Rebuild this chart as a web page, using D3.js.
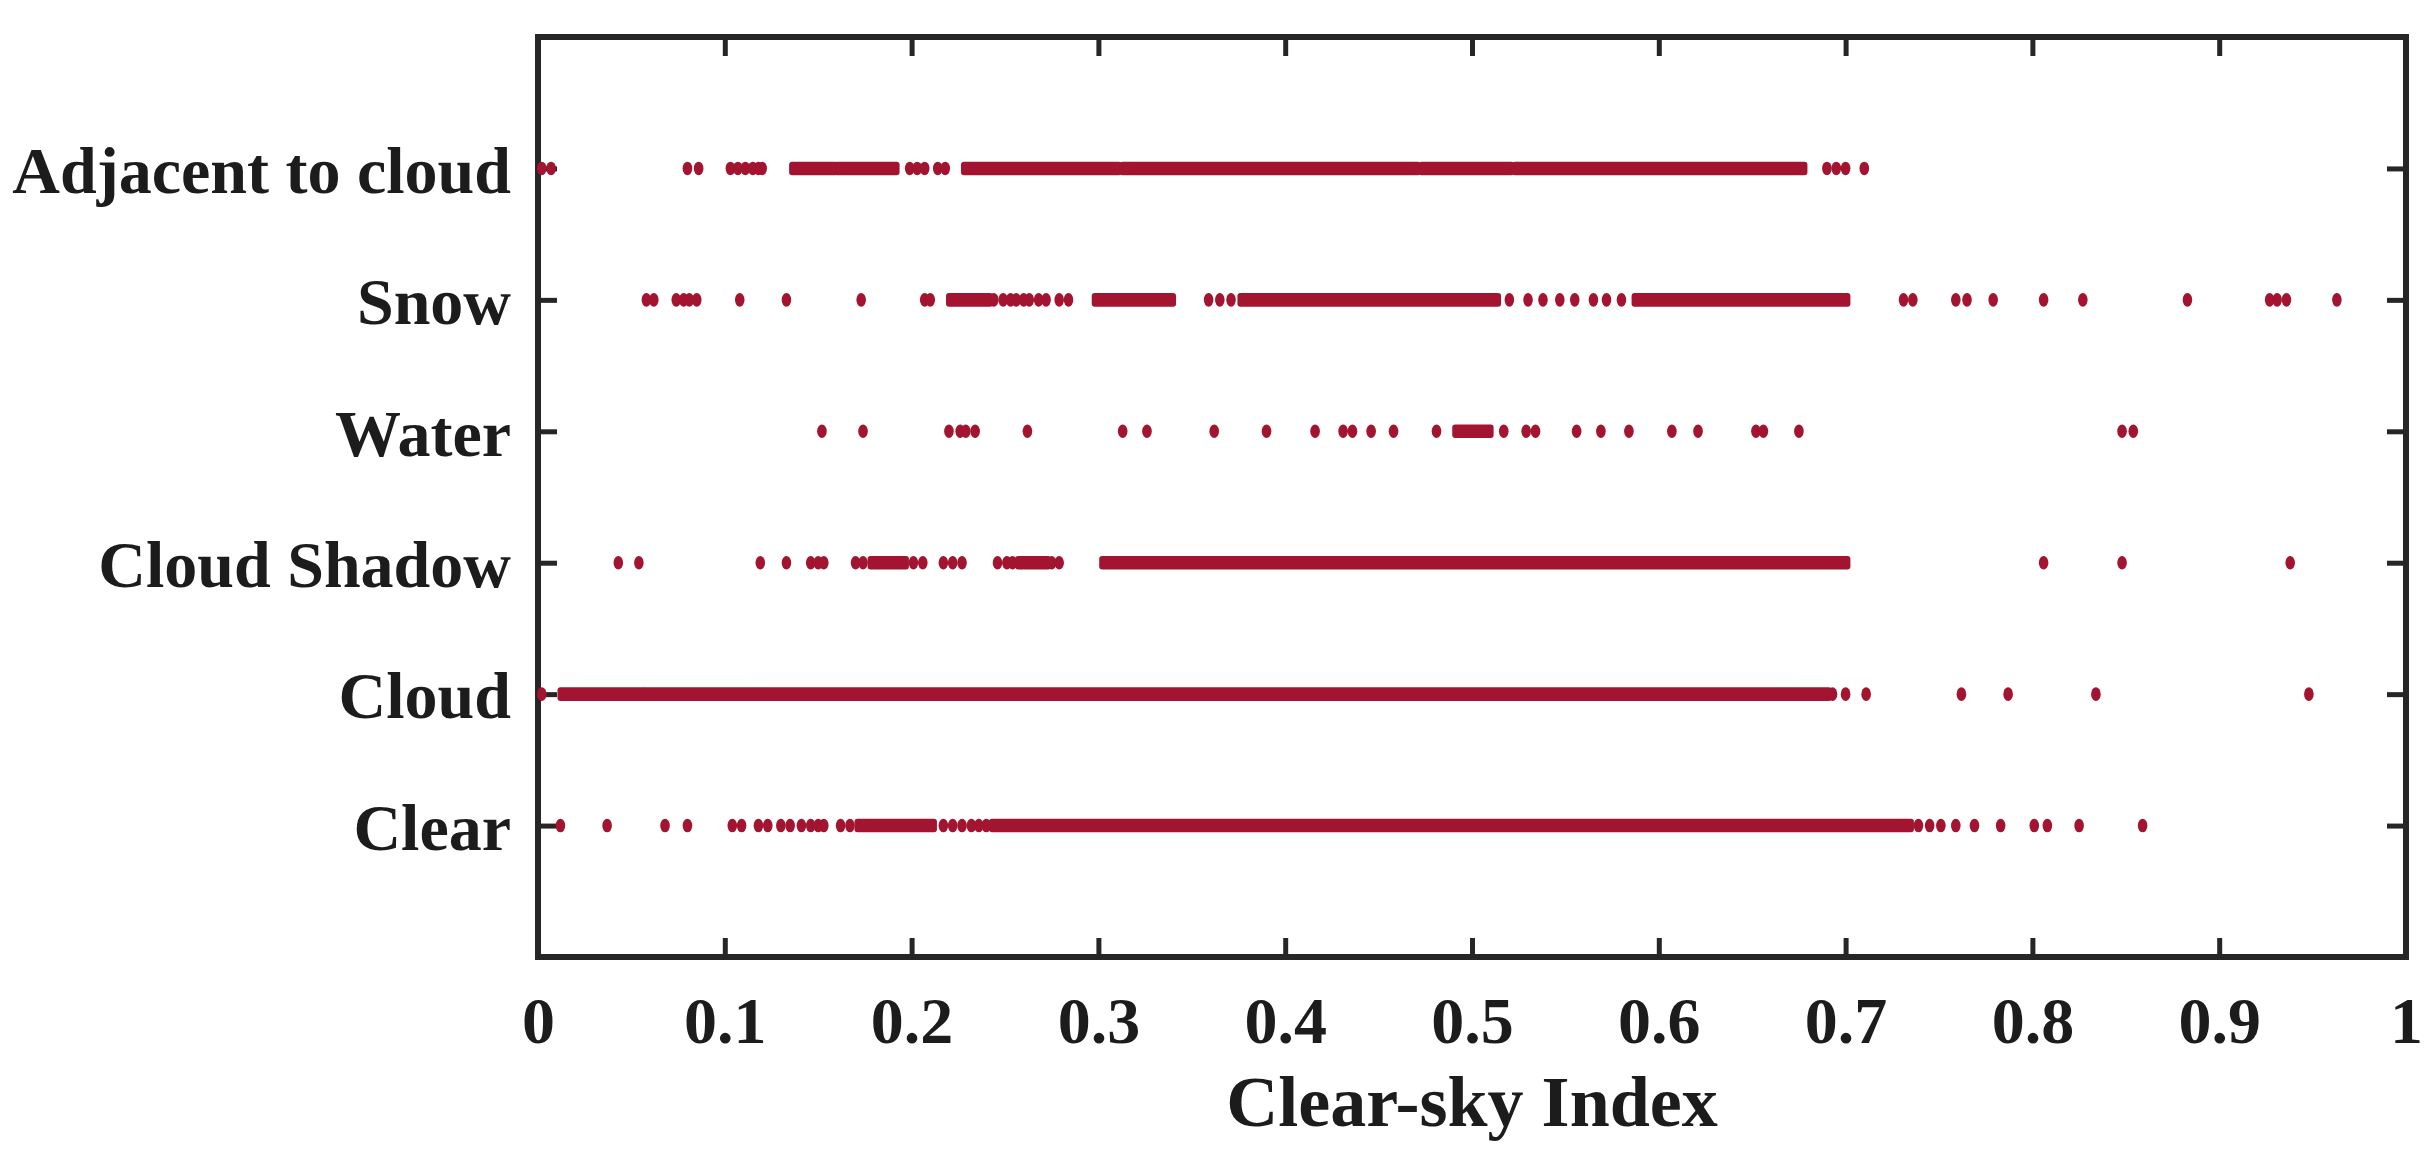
<!DOCTYPE html>
<html>
<head>
<meta charset="utf-8">
<script src="https://cdn.jsdelivr.net/npm/d3@7"></script>
<style>
  html, body { margin: 0; padding: 0; background: #fff; }
  svg { display: block; }
  text { font-family: "Liberation Serif", "Times New Roman", serif; font-weight: bold; fill: #1c1c1c; }
</style>
</head>
<body>
<div id="chart"></div>
<script>
// categories bottom -> top
var categories = ["Clear", "Cloud", "Cloud Shadow", "Water", "Snow", "Adjacent to cloud"];
var xTicks = [0, 0.1, 0.2, 0.3, 0.4, 0.5, 0.6, 0.7, 0.8, 0.9, 1];
var xTitle = "Clear-sky Index";

// single markers (clear-sky index) and dense runs of markers [from, to]
var clearDots = [0.012, 0.037, 0.068, 0.080, 0.104, 0.109, 0.118, 0.123, 0.130, 0.135, 0.141, 0.146, 0.150, 0.153,
  0.162, 0.167, 0.217, 0.222, 0.227, 0.232, 0.236, 0.240, 0.739, 0.745, 0.751, 0.759, 0.769, 0.783, 0.801, 0.808, 0.825, 0.859];
var clearRuns = [[0.172, 0.211], [0.244, 0.734]];

var cloudDots = [0.002, 0.693, 0.700, 0.711, 0.762, 0.787, 0.834, 0.948];
var cloudRuns = [[0.013, 0.055], [0.058, 0.690]];

var shadowDots = [0.043, 0.054, 0.119, 0.133, 0.146, 0.150, 0.153, 0.170, 0.174, 0.201, 0.206, 0.217, 0.222, 0.227,
  0.246, 0.251, 0.254, 0.275, 0.279, 0.806, 0.848, 0.938];
var shadowRuns = [[0.179, 0.196], [0.258, 0.272], [0.303, 0.700]];

var waterDots = [0.152, 0.174, 0.220, 0.226, 0.229, 0.234, 0.262, 0.313, 0.326, 0.362, 0.390, 0.416, 0.431, 0.436,
  0.446, 0.458, 0.481, 0.517, 0.529, 0.534, 0.556, 0.569, 0.584, 0.607, 0.621, 0.652, 0.656, 0.675, 0.848, 0.854];
var waterRuns = [[0.492, 0.509]];

var snowDots = [0.058, 0.062, 0.074, 0.078, 0.081, 0.085, 0.108, 0.133, 0.173, 0.207, 0.210, 0.244, 0.249, 0.253,
  0.256, 0.260, 0.263, 0.268, 0.272, 0.279, 0.284, 0.359, 0.365, 0.371, 0.520, 0.530, 0.538, 0.547, 0.555, 0.565,
  0.572, 0.580, 0.731, 0.736, 0.759, 0.765, 0.779, 0.806, 0.827, 0.883, 0.927, 0.931, 0.936, 0.963];
var snowRuns = [[0.221, 0.241], [0.299, 0.339], [0.377, 0.513], [0.588, 0.700]];

var adjacentDots = [0.002, 0.007, 0.080, 0.086, 0.103, 0.107, 0.111, 0.115, 0.118, 0.120, 0.199, 0.203, 0.207,
  0.214, 0.218, 0.690, 0.695, 0.700, 0.710];
var adjacentRuns = [[0.137, 0.158], [0.161, 0.191], [0.229, 0.310], [0.314, 0.470], [0.474, 0.520], [0.524, 0.677]];

var dotsByCat = [clearDots, cloudDots, shadowDots, waterDots, snowDots, adjacentDots];
var runsByCat = [clearRuns, cloudRuns, shadowRuns, waterRuns, snowRuns, adjacentRuns];

var width = 2431, height = 1170;
var plot = {left: 538, right: 2406, top: 37, bottom: 957};
var markColor = "#a2142f";
var axisColor = "#262626";
var rx = 4.8, ry = 6.8;

var svg = d3.select("#chart").append("svg")
    .attr("width", width)
    .attr("height", height);

var x = d3.scaleLinear().domain([0, 1]).range([plot.left, plot.right]);
var y = d3.scaleLinear().domain([0, 7]).range([plot.bottom, plot.top]);
var rows = d3.range(1, categories.length + 1);

// axes, ticks pointing inward on all four sides
var fmt = d3.format("~g");
var gx = svg.append("g")
    .attr("transform", "translate(0," + plot.bottom + ")")
    .call(d3.axisBottom(x).tickValues(xTicks).tickSize(-19).tickFormat(fmt));
gx.selectAll("text").attr("y", 86).attr("dy", null).attr("font-size", 66);

var gxTop = svg.append("g")
    .attr("transform", "translate(0," + plot.top + ")")
    .call(d3.axisTop(x).tickValues(xTicks).tickSize(-19).tickFormat(""));

var gy = svg.append("g")
    .attr("transform", "translate(" + plot.left + ",0)")
    .call(d3.axisLeft(y).tickValues(rows).tickSize(-19).tickPadding(27)
      .tickFormat(function(d){ return categories[d - 1]; }));
gy.selectAll("text").attr("dy", "0.36em").attr("font-size", 66);

var gyRight = svg.append("g")
    .attr("transform", "translate(" + plot.right + ",0)")
    .call(d3.axisRight(y).tickValues(rows).tickSize(-19).tickFormat(""));

svg.selectAll(".domain").remove();
svg.selectAll(".tick line")
    .attr("stroke", axisColor)
    .attr("stroke-width", 5);
svg.selectAll(".tick text").attr("fill", "#1c1c1c").attr("font-family", null);

// box
svg.append("rect")
    .attr("x", plot.left)
    .attr("y", plot.top)
    .attr("width", plot.right - plot.left)
    .attr("height", plot.bottom - plot.top)
    .attr("fill", "none")
    .attr("stroke", axisColor)
    .attr("stroke-width", 6);

// marks
var marks = svg.append("g").attr("fill", markColor);

rows.forEach(function(r, i){
  var cy = y(r);
  marks.selectAll(".run" + i)
    .data(runsByCat[i])
    .enter().append("rect")
      .attr("x", function(d){ return x(d[0]) - rx; })
      .attr("y", cy - ry)
      .attr("width", function(d){ return x(d[1]) - x(d[0]) + 2 * rx; })
      .attr("height", 2 * ry)
      .attr("rx", 3);

  marks.selectAll(".dot" + i)
    .data(dotsByCat[i])
    .enter().append("ellipse")
      .attr("cx", function(d){ return x(d); })
      .attr("cy", cy)
      .attr("rx", rx)
      .attr("ry", ry);
});

// x title
svg.append("text")
    .attr("x", (plot.left + plot.right) / 2)
    .attr("y", 1126)
    .attr("text-anchor", "middle")
    .attr("font-size", 72)
    .text(xTitle);
</script>
</body>
</html>
